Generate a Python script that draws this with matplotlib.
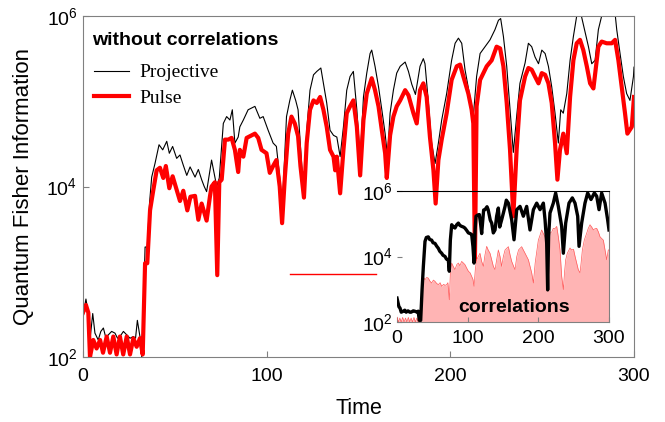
import matplotlib
matplotlib.use("Agg")
import matplotlib.pyplot as plt
from matplotlib.ticker import NullLocator
import numpy as np

plt.rcParams['font.family'] = 'Liberation Sans'
plt.rcParams['mathtext.fontset'] = 'custom'
plt.rcParams['mathtext.rm'] = 'Liberation Sans'
plt.rcParams['mathtext.it'] = 'Liberation Sans:italic'
plt.rcParams['mathtext.bf'] = 'Liberation Sans:bold'

# main panel, values as log10(QFI)
t_proj = [0.2, 1.6, 2.9, 3.8, 5.3, 6.5, 8.3, 9.7, 11.1, 12.5, 13.8, 15.6, 17.4, 18.8, 20.1, 22.0,
          23.8, 25.6, 27.4, 28.6, 29.6, 31.0, 32.0, 32.9, 33.8, 35.0, 36.2, 37.4, 39.2, 41.4, 43.4,
          45.6, 47.0, 48.8, 51.0, 52.8, 54.6, 56.5, 58.3, 61.0, 62.8, 64.6, 66.0, 67.3, 70.0, 72.8,
          74.2, 76.4, 78.2, 80.0, 81.3, 82.7, 84.5, 85.4, 87.3, 89.9, 93.6, 96.3, 98.1, 100.8, 103.5,
          105.3, 107.1, 108.4, 110.8, 112.6, 114.0, 115.8, 117.1, 118.9, 120.4, 121.8, 123.6, 125.5,
          127.3, 129.5, 130.9, 132.7, 134.5, 136.4, 138.2, 140.0, 141.8, 143.6, 145.4, 147.2, 149.1,
          150.9, 152.7, 154.5, 156.3, 157.2, 159.0, 160.9, 162.7, 164.5, 165.8, 167.2, 169.0, 170.8,
          172.7, 175.4, 177.2, 179.0, 181.0, 183.5, 185.3, 186.2, 188.0, 189.8, 191.7, 193.5, 195.3,
          198.0, 200.7, 202.6, 204.4, 206.2, 208.0, 210.7, 212.5, 214.3, 216.2, 218.9, 221.6, 224.3,
          226.2, 227.4, 228.9, 230.7, 232.5, 234.3, 236.1, 237.9, 240.7, 242.5, 244.3, 246.1, 248.0,
          249.8, 251.6, 253.4, 255.2, 257.0, 258.8, 260.1, 261.5, 263.4, 265.2, 267.0, 268.8, 270.6,
          272.4, 275.2, 277.0, 278.8, 280.6, 282.4, 284.2, 287.0, 289.7, 290.6, 292.4, 294.2, 296.0,
          297.8, 299.7, 300.0]
proj_log = [2.51, 2.68, 2.51, 2.2, 2.51, 2.28, 2.2, 2.3, 2.34, 2.22, 2.26, 2.3, 2.28, 2.22, 2.24, 2.3,
            2.26, 2.22, 2.24, 2.22, 2.43, 2.24, 2.0, 2.6, 3.29, 3.29, 3.8, 4.11, 4.27, 4.49, 4.43,
            4.53, 4.39, 4.47, 4.33, 4.37, 4.25, 4.13, 4.23, 4.11, 4.2, 4.08, 4.0, 3.94, 4.31, 4.0,
            4.1, 4.74, 4.82, 4.78, 4.9, 4.51, 4.58, 4.7, 4.78, 4.9, 4.94, 4.8, 4.82, 4.66, 4.51,
            4.47, 4.11, 3.7, 4.82, 5.01, 5.13, 5.01, 4.9, 4.31, 3.86, 4.66, 5.13, 5.31,
            5.35, 5.39, 5.21, 4.98, 4.66, 4.6, 4.58, 4.35, 4.7, 5.13, 5.29, 5.35, 4.9,
            4.31, 5.05, 5.33, 5.56, 5.6, 5.41, 5.17, 4.9, 4.62, 4.35, 4.86, 5.13, 5.33,
            5.41, 5.46, 5.35, 5.2, 5.08, 5.41, 5.5, 5.44, 5.0, 4.51, 4.27, 4.51, 4.78,
            5.09, 5.48, 5.68, 5.74, 5.68, 5.37, 5.05, 4.82, 5.29, 5.56, 5.64, 5.72, 5.84,
            5.95, 5.97, 5.76, 5.41, 4.9, 4.4, 4.82, 5.21, 5.45, 5.68, 5.64, 5.52, 5.44,
            5.6, 5.56, 5.41, 5.17, 4.86, 4.51, 4.9, 4.86, 5.09, 5.48, 5.76, 6.0, 6.07,
            5.9, 5.64, 5.44, 5.48, 5.84, 6.0, 6.05, 6.07, 6.03, 5.84, 5.56, 5.29, 5.09,
            5.01, 5.29, 5.4]

t_pulse = [0.0, 1.6, 2.9, 3.8, 5.6, 7.4, 9.3, 10.9, 12.9, 14.7, 16.5, 18.3, 20.1, 21.9, 23.8, 25.6,
           27.4, 29.2, 31.0, 32.5, 33.8, 35.0, 36.5, 38.3, 40.1, 41.9, 43.7, 45.1, 47.0, 48.8, 51.0,
           52.8, 54.6, 56.8, 58.5, 61.0, 62.8, 64.6, 67.3, 69.1, 70.0, 71.8, 73.1, 74.2, 75.5, 77.3,
           79.1, 80.9, 82.7, 84.5, 85.4, 87.3, 89.1, 90.9, 93.6, 95.4, 97.2, 99.9, 101.7, 103.5,
           105.3, 107.1, 108.4, 109.9, 111.7, 113.5, 115.3, 117.1, 118.4, 120.3, 121.8, 123.6, 125.5,
           127.3, 129.1, 130.9, 132.7, 134.5, 136.4, 137.3, 138.2, 140.0, 141.8, 143.6, 145.4, 147.2,
           149.1, 150.9, 152.7, 154.5, 157.2, 159.0, 160.9, 162.7, 164.5, 165.4, 167.2, 169.0, 170.8,
           172.7, 175.4, 177.2, 179.9, 181.7, 183.5, 185.3, 187.1, 188.9, 190.8, 192.0, 193.5, 195.3,
           198.0, 200.7, 203.5, 205.3, 207.1, 209.8, 211.6, 212.5, 213.4, 214.3, 216.2, 219.8, 222.5,
           225.2, 227.1, 228.9, 230.7, 232.5, 234.3, 236.1, 237.9, 240.7, 242.5, 244.3, 246.1, 248.0,
           249.8, 251.6, 253.4, 255.2, 257.0, 258.3, 259.7, 261.5, 263.4, 265.2, 267.0, 268.8, 270.6,
           272.4, 274.3, 276.1, 277.9, 280.6, 282.4, 285.1, 287.9, 289.7, 291.5, 293.3, 295.1, 296.4,
           298.8, 300.0]
pulse_log = [2.52, 2.61, 2.52, 2.0, 2.2, 2.1, 2.2, 2.05, 2.24, 2.05, 2.24, 2.03, 2.24, 2.03, 2.24, 2.03,
             2.22, 2.12, 2.22, 2.03, 3.1, 3.1, 3.72, 3.96, 4.19, 4.22, 4.1, 4.24, 3.98, 4.12, 3.96,
             3.83, 3.95, 3.72, 3.88, 3.89, 3.61, 3.8, 3.6, 3.88, 4.0, 4.05, 2.96, 4.05, 4.08, 4.55,
             4.55, 4.57, 4.43, 4.17, 4.43, 4.35, 4.57, 4.59, 4.62, 4.57, 4.43, 4.39, 4.16, 4.24,
             4.31, 4.0, 3.57, 4.11, 4.62, 4.82, 4.74, 4.59, 4.24, 3.87, 4.51, 4.9, 5.01,
             4.98, 5.05, 4.9, 4.7, 4.43, 4.35, 4.19, 4.35, 3.92, 4.43, 4.86, 4.94, 5.01,
             4.7, 4.13, 4.78, 5.09, 5.27, 5.13, 4.94, 4.66, 4.39, 4.1, 4.6, 4.82, 4.94,
             5.01, 5.13, 5.07, 4.86, 4.74, 5.13, 5.21, 5.05, 4.58, 4.19, 3.8, 4.31, 4.55,
             4.86, 5.25, 5.41, 5.43, 5.29, 5.09, 4.9, 4.74, 3.14, 4.94, 5.25, 5.41, 5.48,
             5.64, 5.62, 5.41, 4.98, 4.43, 3.65, 4.43, 5.01, 5.29, 5.39, 5.37, 5.29, 5.21,
             5.33, 5.31, 5.21, 4.98, 4.51, 4.08, 4.43, 4.62, 4.39, 5.05, 5.48, 5.68, 5.72,
             5.6, 5.41, 5.21, 5.15, 5.64, 5.7, 5.68, 5.68, 5.72, 5.48, 5.17, 4.86, 4.62,
             4.7, 5.05]

stray_t = [112.7, 159.5]
stray_log = [2.97, 2.97]

# inset: with correlations
t_inset = [0, 2.8, 4.2, 6, 9, 11, 13, 15.6, 18, 20, 23, 25, 28.8, 30, 31.5, 33.5, 35.5, 37.3, 39.6,
           41.5, 44.3, 46.2, 49, 51, 53.8, 56, 58.5, 60.5, 63.2, 65, 68, 70, 72.6, 74, 75.5, 77.4,
           80, 82, 84.5, 86.8, 89, 91.5, 94, 96, 98.5, 101, 103.5, 105.7, 107.5, 109, 110.5, 111.8,
           114.6, 116.5, 118.3, 119.8, 122.6, 124.5, 127.4, 129, 132, 134, 136.3, 138.7, 141,
           143.4, 145.3, 148.1, 152.9, 154.7, 157.6, 162.3, 165.6, 169.4, 174.1, 178.8, 183.5,
           188.2, 193, 197.7, 202.4, 207.1, 209.5, 211.8, 213.2, 214.5, 216.5, 221.2, 224.5, 228.3,
           233, 235.4, 238.7, 243.4, 248.1, 251.9, 255.7, 257.6, 261.3, 266, 269.8, 274.5, 279.3,
           282.6, 285.9, 289.6, 294.4, 298.1, 300]
inset_log = [2.73, 2.46, 2.43, 2.3, 2.33, 2.36, 2.3, 2.34, 2.3, 2.3, 2.34, 2.33, 2.3, 2.33, 2.05, 2.05,
             3.0, 3.7, 4.46, 4.58, 4.6, 4.52, 4.5, 4.42, 4.4, 4.32, 4.25, 4.16, 4.1, 4.04, 4.0, 3.92,
             3.9, 3.55, 4.5, 4.97, 4.9, 4.87, 4.97, 5.02, 4.95, 4.92, 4.9, 4.87, 4.8, 4.72, 4.7,
             4.67, 4.3, 3.8, 4.8, 5.23, 5.27, 5.28, 5.0, 4.7, 5.42, 5.43, 5.52, 5.43, 5.11, 5.02,
             4.72, 4.81, 5.23, 5.48, 4.9, 5.12, 5.53, 5.72, 5.63, 5.12, 4.51, 5.43, 5.53, 5.23,
             5.53, 4.81, 5.43, 5.63, 5.43, 5.63, 5.12, 4.41, 2.98, 4.6, 5.33, 5.63, 5.94, 5.53,
             4.92, 4.1, 5.02, 5.63, 5.79, 5.63, 5.23, 4.31, 5.02, 5.63, 5.94, 5.74, 5.94, 5.84,
             5.43, 5.94, 5.63, 5.12, 4.81]

t_fill = [0, 2, 4, 6, 8, 10, 12, 14, 16, 18, 20, 22, 24, 26, 28, 30, 32, 33.5, 35, 37, 39.6, 42, 44.3,
          46.5, 49, 51.5, 53.8, 56, 58.5, 61, 63.2, 66, 68, 70.3, 72, 74, 75.5, 77.4, 79.5, 82, 84.5,
          86.8, 89, 91.5, 94, 96.2, 98.5, 101, 103.5, 105.7, 107.5, 109, 110.8, 112.7, 115, 117.4,
          119.8, 122.2, 124.5, 126.9, 129, 131.6, 134, 136.3, 138.7, 141, 143.4, 145.8, 148, 150.5,
          152.9, 155.3, 157.6, 160, 162.3, 165, 167, 169.5, 172, 174.1, 176.4, 178.8, 181.2, 183.5,
          185.9, 188.2, 190.6, 193, 195.5, 198, 200, 202.4, 204.7, 207.1, 209.5, 211.5, 213.2, 214.5,
          216.5, 219, 221.2, 223.5, 226, 228.3, 230.7, 233, 235.4, 237, 238.7, 241, 244.8, 247, 249.8,
          252, 254.3, 256.5, 259, 260.5, 262.3, 265, 268.4, 270.5, 273.1, 275.5, 277.9, 280.2, 282.6,
          285, 287.3, 289.6, 292, 294.4, 296.7, 299, 300]
fill_log = [2.15, 2.0, 2.12, 2.0, 2.14, 2.0, 2.12, 2.0, 2.14, 2.0, 2.12, 2.0, 2.14, 2.0, 2.12, 2.0, 2.1,
            2.0, 3.08, 3.39, 3.29, 3.36, 3.34, 3.25, 3.19, 3.28, 3.24, 3.18, 3.14, 3.2, 3.09, 3.15,
            3.12, 3.14, 3.2, 2.68, 3.5, 3.8, 3.7, 3.6, 3.75, 3.8, 3.72, 3.85, 3.8, 3.75, 3.65, 3.55,
            3.5, 3.39, 3.3, 3.09, 3.6, 3.9, 4.0, 4.1, 3.85, 3.7, 4.05, 4.31, 4.2, 4.1, 3.9, 3.7,
            3.6, 3.9, 4.2, 4.0, 3.7, 4.0, 4.2, 4.25, 4.3, 4.05, 3.85, 3.7, 3.6, 4.0, 4.2, 4.25,
            4.3, 4.2, 4.1, 4.0, 3.9, 3.7, 3.5, 3.19, 3.8, 4.2, 4.5, 4.65, 4.81, 4.7, 4.6, 4.3,
            2.98, 4.4, 4.71, 4.75, 4.86, 4.85, 4.92, 4.6, 4.2, 3.4, 2.99, 3.5, 3.9, 4.1, 4.26,
            4.2, 4.22, 4.0, 3.8, 3.6, 3.5, 3.8, 4.2, 4.5, 4.71, 4.85, 4.97, 4.9, 4.81, 4.85,
            4.86, 4.75, 4.6, 4.55, 4.5, 4.2, 3.9, 4.2, 4.2]

spine_grey = '#808080'

fig = plt.figure(figsize=(6.65, 4.22), dpi=100)
ax = fig.add_axes([83 / 665, 65 / 422, 551 / 665, 341 / 422])

ax.plot(t_proj, 10 ** np.array(proj_log), color='black', lw=0.8, label='Projective')
ax.plot(t_pulse, 10 ** np.array(pulse_log), color='red', lw=3, label='Pulse')
ax.plot(stray_t, 10 ** np.array(stray_log), color='red', lw=1)

ax.set_yscale('log')
ax.set_xlim(0, 300)
ax.set_ylim(1e2, 1e6)
ax.set_yticks([1e2, 1e4, 1e6])
ax.yaxis.set_minor_locator(NullLocator())
ax.set_xticks([0, 100, 200, 300])
ax.tick_params(direction='in', length=4, color=spine_grey, labelsize=14)
ax.tick_params(axis='x', pad=8)
ax.tick_params(axis='y', pad=4)
for s in ax.spines.values():
    s.set_color(spine_grey)
ax.set_xlabel('Time', fontsize=15.5, labelpad=9)
ax.set_ylabel('Quantum Fisher Information', fontsize=16, labelpad=9)

ax.text(0.016, 0.928, 'without correlations', transform=ax.transAxes, fontsize=14,
        fontweight='bold', va='center', ha='left')
ax.legend(loc='upper left', bbox_to_anchor=(0.02, 0.86), frameon=False,
          prop={'family': 'Liberation Serif', 'size': 14}, borderpad=0,
          handlelength=1.8, handletextpad=0.55, labelspacing=0.42, borderaxespad=0)

# inset
axi = fig.add_axes([397 / 665, 100 / 422, 212 / 665, 131 / 422])
axi.set_facecolor('none')
axi.fill_between(t_fill, 1e2, 10 ** np.array(fill_log), color='#ffb4b4', lw=0)
axi.plot(t_fill, 10 ** np.array(fill_log), color='#ff5a5a', lw=0.5)
axi.plot(t_inset, 10 ** np.array(inset_log), color='black', lw=2.4)
axi.set_yscale('log')
axi.set_xlim(0, 300)
axi.set_ylim(1e2, 1e6)
axi.set_yticks([1e2, 1e4, 1e6])
axi.yaxis.set_minor_locator(NullLocator())
axi.set_xticks([0, 100, 200, 300])
axi.tick_params(direction='in', length=3.5, color=spine_grey, labelsize=14)
axi.tick_params(axis='x', pad=6)
axi.tick_params(axis='y', pad=3)
axi.spines['left'].set_visible(False)
axi.spines['top'].set_color('black')
axi.spines['right'].set_color(spine_grey)
axi.spines['bottom'].set_color(spine_grey)
axi.text(0.552, 0.112, 'correlations', transform=axi.transAxes, fontsize=14,
         fontweight='bold', ha='center', va='center')

fig.savefig('out.png', dpi=100)
